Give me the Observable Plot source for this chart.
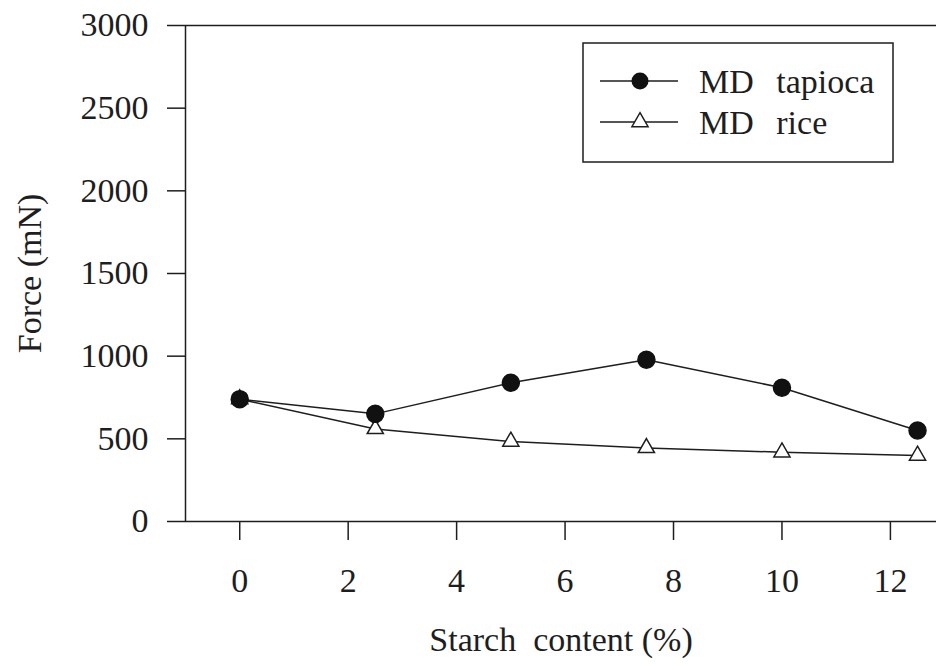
<!DOCTYPE html>
<html>
<head>
<meta charset="utf-8">
<script src="https://cdn.jsdelivr.net/npm/d3@7"></script>
<script src="https://cdn.jsdelivr.net/npm/@observablehq/plot@0.6"></script>
<style>
  html, body { margin: 0; padding: 0; background: #fff; }
  #wrap { position: relative; width: 936px; height: 665px; font-family: "Liberation Serif", "Times New Roman", serif; }
  #legend { position: absolute; left: 582px; top: 42px; }
</style>
</head>
<body>
<div id="wrap"></div>
<script>
const xTicks = [0, 2, 4, 6, 8, 10, 12];
const yTicks = [0, 500, 1000, 1500, 2000, 2500, 3000];
const starch = [0, 2.5, 5, 7.5, 10, 12.5];
const tapioca = [740, 651, 839, 978, 809, 550];
const rice = [740, 560, 484, 445, 419, 399];
const seriesNames = ["MD tapioca", "MD rice"];

const tapData = starch.map((s, i) => ({x: s, y: tapioca[i]}));
const riceData = starch.map((s, i) => ({x: s, y: rice[i]}));

const ink = "#1e1e1e";
const chart = Plot.plot({
  width: 936, height: 665,
  marginLeft: 185, marginRight: 0, marginTop: 25, marginBottom: 144,
  x: {domain: [-1, 12.85]},
  y: {domain: [0, 3000]},
  style: {fontFamily: "Liberation Serif", fontSize: "34px", color: ink, background: "white", overflow: "visible"},
  marks: [
    Plot.ruleY([3000], {stroke: ink, strokeWidth: 1.5}),
    Plot.ruleY([0], {stroke: ink, strokeWidth: 1.5}),
    Plot.ruleX([-1], {stroke: ink, strokeWidth: 1.5}),
    Plot.axisX({ticks: xTicks, tickFormat: "d", tickSize: 19, tickPadding: 27, strokeWidth: 1.5, fontSize: 34,
      label: "Starch\u00a0 content (%)", labelAnchor: "center", labelArrow: "none", labelOffset: 129}),
    Plot.axisY({ticks: yTicks, tickFormat: "d", tickSize: 18, tickPadding: 19, strokeWidth: 1.5, fontSize: 34,
      label: "Force (mN)", labelAnchor: "center", labelArrow: "none", labelOffset: 169}),
    Plot.line(riceData, {x: "x", y: "y", stroke: ink, strokeWidth: 1.5}),
    Plot.line(tapData, {x: "x", y: "y", stroke: ink, strokeWidth: 1.5}),
    Plot.dot(riceData, {x: "x", y: "y", symbol: "triangle", r: 6, fill: "white", stroke: ink, strokeWidth: 1.5}),
    Plot.dot(tapData, {x: "x", y: "y", r: 8.5, fill: "#111", stroke: "#111"})
  ]
});
const wrap = document.getElementById("wrap");
wrap.appendChild(chart);

// legend box
const ns = "http://www.w3.org/2000/svg";
const lg = d3.create("svg").attr("id", "legend").attr("width", 313).attr("height", 122)
  .style("font-family", "Liberation Serif").style("font-size", "34px");
lg.append("rect").attr("x", 1).attr("y", 1).attr("width", 310).attr("height", 119)
  .attr("fill", "white").attr("stroke", ink).attr("stroke-width", 1.5);
seriesNames.forEach((n, i) => {
  const cy = i === 0 ? 39 : 80;
  lg.append("line").attr("x1", 18).attr("x2", 96).attr("y1", cy).attr("y2", cy)
    .attr("stroke", ink).attr("stroke-width", 1.5);
  if (i === 0) {
    lg.append("circle").attr("cx", 58).attr("cy", cy).attr("r", 8.5).attr("fill", "#111");
  } else {
    lg.append("path").attr("d", d3.symbol(d3.symbolTriangle, Math.PI * 36)())
      .attr("transform", `translate(58,${cy})`).attr("fill", "white")
      .attr("stroke", ink).attr("stroke-width", 1.5);
  }
  lg.append("text").attr("x", 117).attr("y", cy + 12).attr("fill", ink)
    .style("word-spacing", "14px").text(n);
});
wrap.appendChild(lg.node());
</script>
</body>
</html>
